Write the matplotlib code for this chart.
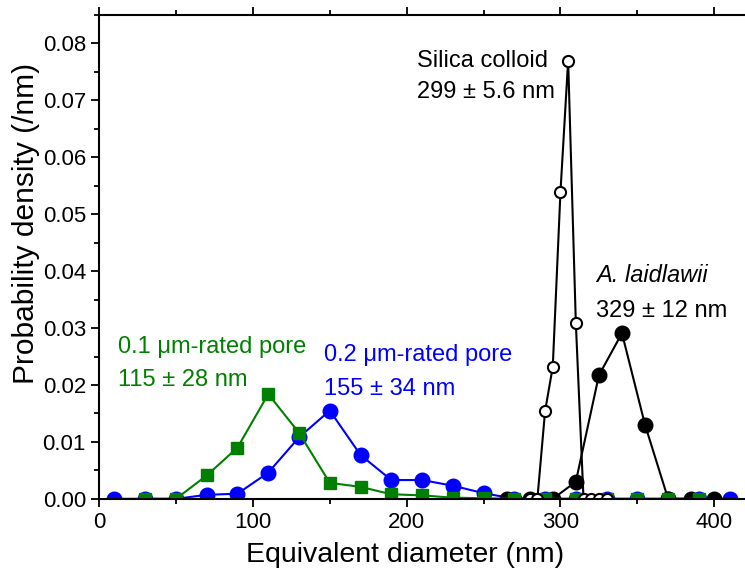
import numpy as np
import matplotlib.pyplot as plt
from matplotlib.ticker import MultipleLocator

plt.rcParams['font.family'] = ['Liberation Sans', 'DejaVu Sans']

# 0.1 um-rated pore (green squares)
pore01_x = [30, 50, 70, 90, 110, 130, 150, 170, 190, 210, 230, 250, 270, 290, 310, 330, 350, 370, 390]
pore01_y = [0.0, 0.0, 0.0041, 0.0090, 0.0184, 0.0116, 0.0028, 0.0021, 0.0008, 0.0006, 0.0002, 0.0001,
            0.0, 0.0, 0.0, 0.0, 0.0, 0.0, 0.0]

# 0.2 um-rated pore (blue circles)
pore02_x = [10, 30, 50, 70, 90, 110, 130, 150, 170, 190, 210, 230, 250, 270, 290, 310, 330, 350, 370, 390, 410]
pore02_y = [0.0, 0.0, 0.0, 0.0007, 0.0009, 0.0046, 0.0108, 0.0155, 0.0077, 0.0033, 0.0033, 0.0023, 0.0010,
            0.0, 0.0, 0.0, 0.0, 0.0, 0.0, 0.0, 0.0]

# A. laidlawii (black filled circles)
acho_x = [265, 280, 295, 310, 325, 340, 355, 370, 385, 400]
acho_y = [0.0, 0.0, 0.0, 0.0030, 0.0217, 0.0291, 0.0130, 0.0, 0.0, 0.0]

# Silica colloid (open circles)
silica_x = [280, 285, 290, 295, 300, 305, 310, 315, 320, 325, 330]
silica_y = [0.0, 0.0, 0.0154, 0.0232, 0.0539, 0.0770, 0.0309, 0.0, 0.0, 0.0, 0.0]

fig = plt.figure(figsize=(7.45, 5.78), dpi=100)
ax = fig.add_axes([0.133, 0.137, 0.867, 0.837])

ax.plot(pore02_x, pore02_y, '-o', color='blue', lw=1.5, ms=10.5)
ax.plot(acho_x, acho_y, '-o', color='black', lw=1.5, ms=10.5)
ax.plot(pore01_x, pore01_y, '-s', color='green', lw=1.5, ms=8.5)
ax.plot(silica_x, silica_y, '-o', color='black', mfc='white', mec='black', mew=1.5, lw=1.5, ms=8)

ax.set_xlim(0, 420)
ax.set_ylim(0, 0.085)
ax.xaxis.set_major_locator(MultipleLocator(100))
ax.xaxis.set_minor_locator(MultipleLocator(50))
ax.yaxis.set_major_locator(MultipleLocator(0.01))
ax.yaxis.set_minor_locator(MultipleLocator(0.005))
ax.yaxis.set_major_formatter(plt.FormatStrFormatter('%.2f'))
ax.tick_params(which='both', direction='out', top=True, labelsize=16, width=1.3)
ax.tick_params(which='major', length=6)
ax.tick_params(which='minor', length=3.5)
ax.spines['right'].set_visible(False)
for s in ['left', 'bottom', 'top']:
    ax.spines[s].set_linewidth(1.5)

ax.set_xlabel('Equivalent diameter (nm)', fontsize=20.5)
ax.xaxis.set_label_coords(0.473, -0.09)
ax.set_ylabel('Probability density (/nm)', fontsize=21.5)
ax.yaxis.set_label_coords(-0.091, 0.57)

ax.text(207, 0.0758, 'Silica colloid', fontsize=17)
ax.text(207, 0.0705, '299 ± 5.6 nm', fontsize=17)
ax.text(323, 0.0381, 'A. laidlawii', fontsize=17, style='italic')
ax.text(323, 0.0319, '329 ± 12 nm', fontsize=17)
ax.text(12, 0.0256, '0.1 μm-rated pore', fontsize=17, color='green')
ax.text(12, 0.0198, '115 ± 28 nm', fontsize=17, color='green')
ax.text(146, 0.0242, '0.2 μm-rated pore', fontsize=17, color='blue')
ax.text(146, 0.0183, '155 ± 34 nm', fontsize=17, color='blue')

fig.savefig('out.png', dpi=100)
